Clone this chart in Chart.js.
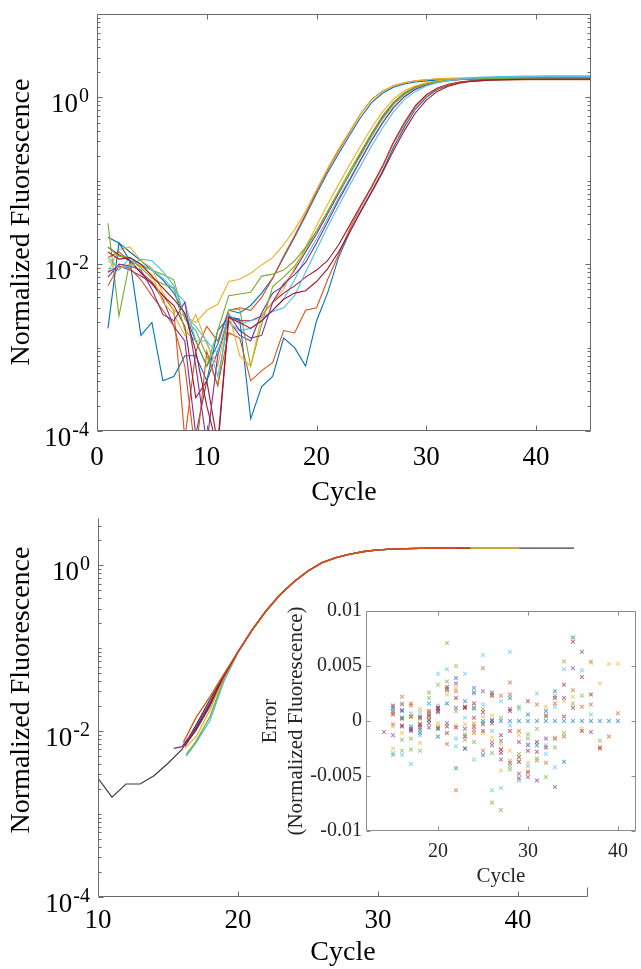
<!DOCTYPE html>
<html>
<head>
<meta charset="utf-8">
<title>Amplification curves</title>
<script src="https://cdn.jsdelivr.net/npm/chart.js"></script>
<style>
  body { margin: 0; background: #fff; }
  #wrap { position: relative; width: 641px; height: 969px; }
  canvas { position: absolute; left: 0; top: 0; }
</style>
</head>
<body>
<div id="wrap">
  <canvas id="topChart" width="641" height="969"></canvas>
  <canvas id="bottomChart" width="641" height="969"></canvas>
  <canvas id="insetChart" width="641" height="969"></canvas>
</div>
<script>
// ---- top panel: raw normalized fluorescence of 14 wells, cycles 1..45
const topCycles = [1,2,3,4,5,6,7,8,9,10,11,12,13,14,15,16,17,18,19,20,21,22,23,24,25,26,27,28,29,30,31,32,33,34,35,36,37,38,39,40,41,42,43,44,45];

const well01 = [0.021,0.018,0.014,0.011,0.0085,0.0065,0.0045,0.0025,0.0012,0.0006, 0.0011,0.0028,0.0026,0.0032,0.0045,0.0068,0.012,0.021,0.038,0.07, 0.125,0.21,0.35,0.57,0.86,1.12,1.32,1.45,1.53,1.58, 1.61,1.63,1.64,1.65,1.66,1.66,1.67,1.67,1.67,1.68, 1.68,1.68,1.68,1.69,1.69];
const well02 = [0.012,0.014,0.011,0.008,0.0062,0.0042,0.0028,0.00008,0.0009,0.0018, 0.0012,0.0028,0.003,0.0028,0.004,0.0068,0.0125,0.022,0.04,0.075, 0.135,0.23,0.38,0.63,0.94,1.19,1.38,1.5,1.58,1.63, 1.66,1.68,1.69,1.7,1.7,1.71,1.71,1.71,1.71,1.72, 1.72,1.72,1.72,1.72,1.72];
const well03 = [0.008,0.015,0.016,0.011,0.009,0.0045,0.0028,0.0024,0.002,0.0028, 0.0033,0.0062,0.0066,0.0078,0.0098,0.012,0.017,0.026,0.043,0.078, 0.14,0.24,0.39,0.63,0.93,1.18,1.38,1.5,1.58,1.63, 1.67,1.69,1.7,1.71,1.71,1.72,1.72,1.72,1.73,1.73, 1.73,1.73,1.73,1.73,1.73];
const well04 = [0.008,0.0095,0.0085,0.0072,0.006,0.0038,0.0018,0.0012,0.00009,0.0004, 0.0009,0.0021,0.0014,0.0012,0.0026,0.0045,0.0055,0.0085,0.014,0.023, 0.04,0.07,0.12,0.21,0.36,0.58,0.86,1.12,1.32,1.46, 1.55,1.61,1.65,1.67,1.68,1.69,1.7,1.7,1.7,1.71, 1.71,1.71,1.71,1.71,1.71];
const well05 = [0.031,0.0024,0.011,0.0095,0.0085,0.0075,0.0065,0.0022,0.0016,0.0008, 0.00035,0.0028,0.0029,0.0006,0.0019,0.0054,0.007,0.0095,0.015,0.025, 0.043,0.075,0.13,0.22,0.37,0.6,0.88,1.14,1.34,1.47, 1.56,1.62,1.65,1.67,1.68,1.69,1.7,1.7,1.71,1.71, 1.71,1.71,1.72,1.72,1.72];
const well06 = [0.009,0.0085,0.012,0.01,0.0085,0.0068,0.005,0.0035,0.0012,0.0012, 0.00045,0.002,0.0016,0.0017,0.0021,0.0028,0.0038,0.0065,0.012,0.02, 0.035,0.062,0.105,0.18,0.31,0.5,0.76,1.02,1.25,1.42, 1.54,1.62,1.68,1.72,1.75,1.77,1.78,1.79,1.8,1.8, 1.81,1.81,1.81,1.82,1.82];
const well07 = [0.016,0.013,0.011,0.0078,0.0058,0.0042,0.0032,0.0018,0.00025,0.0004, 0.00007,0.0024,0.0021,0.0021,0.0024,0.0035,0.0045,0.0055,0.007,0.0085, 0.011,0.017,0.029,0.05,0.085,0.15,0.29,0.5,0.8,1.08, 1.3,1.44,1.53,1.58,1.61,1.63,1.64,1.65,1.65,1.66, 1.66,1.66,1.66,1.66,1.66];
const well08 = [0.0017,0.018,0.011,0.0014,0.002,0.0004,0.00045,0.0008,0.0008,0.0004, 0.0016,0.0023,0.0022,0.00014,0.00034,0.00045,0.0013,0.001,0.0006,0.0021, 0.0045,0.012,0.024,0.043,0.074,0.13,0.25,0.44,0.72,1.0, 1.24,1.4,1.5,1.56,1.6,1.62,1.63,1.64,1.64,1.65, 1.65,1.65,1.65,1.65,1.65];
const well09 = [0.0055,0.0095,0.009,0.0065,0.0042,0.0028,0.0018,0.0006,0.00005,0.0009, 0.00035,0.0015,0.0013,0.0004,0.00053,0.00066,0.0016,0.0015,0.0028,0.003, 0.0065,0.013,0.026,0.048,0.082,0.145,0.28,0.48,0.77,1.05, 1.27,1.42,1.51,1.56,1.59,1.61,1.62,1.62,1.63,1.63, 1.63,1.63,1.63,1.63,1.63];
const well10 = [0.011,0.009,0.01,0.0095,0.0075,0.0035,0.0025,0.0014,0.0025,0.0011, 0.0006,0.0026,0.0008,0.0006,0.0024,0.0035,0.005,0.009,0.016,0.029, 0.052,0.09,0.155,0.26,0.43,0.67,0.95,1.2,1.38,1.5, 1.58,1.63,1.66,1.68,1.69,1.7,1.7,1.71,1.71,1.71, 1.72,1.72,1.72,1.72,1.72];
const well11 = [0.007,0.01,0.0095,0.0085,0.005,0.0025,0.0021,0.0035,0.0006,0.00007, 0.0008,0.0025,0.0016,0.0013,0.0014,0.0035,0.0058,0.0075,0.0105,0.018, 0.032,0.058,0.1,0.175,0.3,0.49,0.75,1.02,1.25,1.41, 1.52,1.59,1.63,1.66,1.68,1.69,1.7,1.7,1.7,1.71, 1.71,1.71,1.71,1.71,1.71];
const well12 = [0.016,0.0125,0.012,0.009,0.0068,0.0058,0.0052,0.0016,0.0012,0.0006, 0.0016,0.0042,0.0044,0.0046,0.0072,0.0076,0.0085,0.011,0.016,0.025, 0.042,0.072,0.12,0.2,0.34,0.55,0.82,1.08,1.3,1.44, 1.53,1.6,1.64,1.66,1.68,1.69,1.69,1.7,1.7,1.7, 1.71,1.71,1.71,1.71,1.71];
const well13 = [0.012,0.009,0.0095,0.0115,0.011,0.0082,0.0055,0.0024,0.0018,0.0012, 0.00085,0.0025,0.0019,0.0021,0.0023,0.0027,0.003,0.0042,0.008,0.015, 0.028,0.05,0.088,0.15,0.26,0.43,0.67,0.94,1.18,1.37, 1.5,1.59,1.65,1.69,1.72,1.74,1.75,1.76,1.77,1.77, 1.78,1.78,1.78,1.78,1.78];
const well14 = [0.014,0.0115,0.012,0.01,0.0072,0.0052,0.0038,0.0026,0.0009,0.0002, 0.00006,0.0023,0.002,0.0017,0.0021,0.0028,0.0038,0.0045,0.0048,0.0062, 0.0088,0.014,0.024,0.042,0.072,0.125,0.23,0.4,0.65,0.93, 1.18,1.36,1.48,1.55,1.59,1.62,1.63,1.64,1.65,1.65, 1.65,1.65,1.65,1.65,1.65];

// ---- bottom panel: one measured well (black) and its fitted curves
const dataCycles = [10,11,12,13,14,15,16,17,18,19,20,21,22,23,24,25,26,27,28,29,30,31,32,33,34,35,36,37,38,39,40,41,42,43,44];
const measured = [0.0027,0.0016,0.0023,0.0023,0.0029,0.0041,0.006,0.0118,0.024,0.047, 0.09,0.165,0.28,0.44,0.63,0.85,1.07,1.23,1.36,1.46, 1.53,1.56,1.58,1.59,1.6,1.6,1.6,1.6,1.6,1.6, 1.6,1.6,1.6,1.6,1.6];

// fits, in drawing order: purple, blue, light blue, green, yellow, dark red, orange
const fitStartX = [15.4, 16.2, 16.3, 16.3, 16.2, 16.2, 16.1];
const fitStartY = [0.0062, 0.0068, 0.005, 0.0052, 0.0062, 0.0066, 0.0073];
const fitEndX = [35, 36, 36, 37.5, 40.1, 36.6, 35.6];
const fitPurple = [0.0065,0.011,0.022,0.046,0.09,0.165,0.28,0.44,0.63,0.85,1.07,1.23,1.36,1.46,1.53,1.56,1.58,1.59,1.6,1.6];
const fitBlue = [0.0102,0.02,0.046,0.09,0.165,0.28,0.44,0.63,0.85,1.07,1.23,1.36,1.46,1.53,1.56,1.58,1.59,1.6,1.6,1.6];
const fitLightBlue = [0.0072,0.0134,0.04,0.088,0.165,0.28,0.44,0.63,0.85,1.07,1.23,1.36,1.46,1.53,1.56,1.58,1.59,1.6,1.6,1.6];
const fitGreen = [0.0075,0.015,0.043,0.089,0.165,0.28,0.44,0.63,0.85,1.07,1.23,1.36,1.46,1.53,1.56,1.58,1.59,1.6,1.6,1.6,1.6];
const fitYellow = [0.0085,0.018,0.045,0.09,0.165,0.28,0.44,0.63,0.85,1.07,1.23,1.36,1.46,1.53,1.56,1.58,1.59,1.6,1.6,1.6,1.6,1.6,1.6,1.6];
const fitDarkRed = [0.0105,0.021,0.046,0.09,0.165,0.28,0.44,0.63,0.85,1.07,1.23,1.36,1.46,1.53,1.56,1.58,1.59,1.6,1.6,1.6];
const fitOrange = [0.0145,0.026,0.049,0.091,0.166,0.28,0.44,0.63,0.85,1.07,1.23,1.36,1.46,1.53,1.56,1.58,1.59,1.6,1.6];

// ---- inset: fit residuals, each series starts at errFrom and steps one cycle
const errFrom = [15, 15, 15, 14, 15, 15, 15, 15, 15, 16, 15, 15, 15, 16];
const errBlue = [0.0012,0.0003,-0.0005,-0.0008,0.0001,-0.0007,0.0016,-0.0043,-0.0025,0.003,0,0,0,0,0,0,0,0,0,0,0,0,0,0,0,0];
const errOrange = [0.0008,0.0022,0.0016,-0.0003,0.0004,-0.0006,-0.0021,-0.0063,-0.0025,-0.0011,0.0048,0.0024,-0.0026,0.0035,-0.0037,-0.0047,0.0015,-0.0038,0.0016,-0.0014,0.0028,0.0013,0.0015,-0.0025,-0.0014,0.0007];
const errYellow = [-0.0005,0.0003,0.0004,-0.002,0.0008,-0.0002,0.0028,0.003,-0.0003,-0.0002,0.0004,-0.0015,-0.0045,-0.0027,-0.0013,-0.0038,-0.0036,0.0013,-0.0015,0.0018,0.0022,-0.0007,0.0053,0.0034,0.0052,0.0052];
const errPurple = [-0.001,-0.0013,0.001,-0.0008,-0.0004,0.0005,0.0009,-0.0002,0.0034,0.0013,-0.0005,0.0027,-0.0022,-0.0026,-0.0038,-0.0048,-0.0051,-0.0054,-0.0016,-0.006,0.0021,0.0048,0.0063,-0.001];
const errGreen = [-0.0031,-0.0027,-0.0016,-0.0027,0.0026,0.0033,0.0071,0.005,-0.0017,0.0011,-0.0002,-0.0074,-0.0081,-0.0044,-0.003,-0.0016,-0.0007,-0.0051,-0.0024,0.0054,0.0076,0.0023,0.0054,-0.0018];
const errLightBlue = [-0.0029,-0.0031,-0.0039,0.0008,0.0016,0.0043,0.0047,-0.0023,0.0043,-0.0035,0.006,-0.0063,-0.0061,0.0063,-0.0054,-0.0021,0.0025,-0.003,-0.0042,0.0047,0.0076,0.0046,0.0006];
const errDarkRed = [0.0006,-0.0004,0.0004,-0.0003,0.0009,0.0012,0.0031,-0.0006,0.0012,0.0003,0.0008,-0.0002,-0.0029,-0.0009,-0.0052,-0.0027,-0.0019,-0.0024,0.0021,0.0004,0.0072,0.004,0.0024,-0.0024];
const errOrange2 = [-0.0003,0.0015,0.0014,-0.0006,0.0001,0.0012,-0.0011,0.0027,0.0012,-0.0008,-0.0027,-0.0019,0.0023,0.0024,-0.0009,-0.0046];
const errLightBlue2 = [0.0011,0.0016,0.0007,-0.0013,0.0016,0.0014,-0.0011,-0.0016,0.0003,0.0025,0.0015,-0.0009,0.0018,-0.0004,0.0011,-0.0041,-0.0036,-0.0022,0.0013];
const errPurple2 = [-0.0005,-0.0009,0.0004,-0.0006,0.0008,0.0029,0.0012,-0.0007,0.0026,-0.0003,0.0001,-0.0035,0.0011,-0.0019,-0.0022];
const errYellow2 = [-0.0025,-0.0011,0.0004,0.0011,0.0005,-0.0005,0.0024,-0.0004,0.0013,-0.0003,-0.0011,0.0005,-0.0021,-0.0036];
const errGreen2 = [0.0009,-0.0017,-0.0026,0.0002,0.0021,-0.0007,0.0036,0.0009,-0.0012,-0.0019,0.0011,-0.0029,0.0003,-0.0041,0.0013,-0.0012,-0.0034,0.0004,0.0023,-0.0011,0.0016];
const errDarkRed2 = [0.0014,0.0002,-0.0007,0.0003,-0.0002,0.0011,-0.0005,0.0021,-0.0014,0.0016,-0.0009,0.0023,-0.0013,0.0009,-0.0033,0.0018,-0.0028,0.0005,-0.0016,0.0033,0.0012,-0.0009];
const errBlue2 = [0.0009,0.0004,-0.0011,0.0007,-0.0014,0.0028,0.0039,0.0018,0.0012,-0.0031,0.0026,-0.0018,0.0021,-0.0037,0.0006,-0.0022,0.0009,0.0027,-0.0037];

const logLabelExps = [-4, -2, 0];

// matlab default line colours
const C = { blue: '#0072BD', orange: '#D95319', yellow: '#EDB120', purple: '#7E2F8E',
            green: '#77AC30', lightblue: '#4DBEEE', darkred: '#A2142F' };
const SERIF = "'Liberation Serif', 'Times New Roman', serif";

function rgba(hex, a) {
  const n = parseInt(hex.slice(1), 16);
  return `rgba(${n >> 16},${(n >> 8) & 255},${n & 255},${a})`;
}

// minor/major positions for a log axis (1..9 x 10^n)
function logTicks(min, max) {
  const out = [];
  for (let e = Math.floor(Math.log10(min)); e <= Math.ceil(Math.log10(max)); e++) {
    for (let m = 1; m <= 9; m++) {
      const v = m * Math.pow(10, e);
      if (v >= min * 0.999 && v <= max * 1.001) out.push({ v, major: m === 1 && e % 2 === 0 });
    }
  }
  return out;
}

// draws matlab-like axes: frame, inward ticks, 10^n labels, rotated y title
const matlabAxes = {
  id: 'matlabAxes',
  beforeDraw(chart, args, o) {
    if (!o.fill) return;
    const a = chart.chartArea, ctx = chart.ctx;
    ctx.save();
    ctx.fillStyle = o.fill;
    ctx.fillRect(a.left, a.top, a.right - a.left, a.bottom - a.top);
    ctx.restore();
  },
  afterDraw(chart, args, o) {
    const { ctx, chartArea: a } = chart;
    const x = chart.scales.x, y = chart.scales.y;
    const L = Math.round(a.left) + 0.5, R = Math.round(a.right) - 0.5;
    const T = Math.round(a.top) + 0.5, B = Math.round(a.bottom) - 0.5;
    ctx.save();
    ctx.strokeStyle = o.color;
    ctx.lineWidth = 1;
    ctx.beginPath();
    if (o.box) {
      ctx.rect(L, T, R - L, B - T);
    } else {
      ctx.moveTo(L, T); ctx.lineTo(L, B); ctx.lineTo(R, B);
      ctx.moveTo(R, B); ctx.lineTo(R, B - 9);
    }
    // x ticks
    x.ticks.forEach(t => {
      const px = Math.round(x.getPixelForValue(t.value)) + 0.5;
      if (px - L < 2 || R - px < 2) return;
      ctx.moveTo(px, B); ctx.lineTo(px, B - o.tickLen);
      if (o.box) { ctx.moveTo(px, T); ctx.lineTo(px, T + o.tickLen); }
    });
    // y ticks
    const yt = o.log ? logTicks(y.min, y.max) : y.ticks.map(t => ({ v: t.value, major: true }));
    yt.forEach(t => {
      const py = Math.round(y.getPixelForValue(t.v)) + 0.5;
      const len = t.major ? o.tickLen : o.tickLen * 0.6;
      ctx.moveTo(L, py); ctx.lineTo(L + len, py);
      if (o.box) { ctx.moveTo(R, py); ctx.lineTo(R - len, py); }
    });
    ctx.stroke();

    if (o.log) {
      ctx.fillStyle = '#000';
      ctx.textAlign = 'right';
      ctx.textBaseline = 'alphabetic';
      logLabelExps.forEach(e => {
        const py = y.getPixelForValue(Math.pow(10, e));
        const txt = String(e);
        ctx.font = `20px ${SERIF}`;
        const ew = ctx.measureText(txt).width;
        const xr = a.left - 8;
        ctx.fillText(txt, xr, py + 5);
        ctx.font = `27px ${SERIF}`;
        ctx.fillText('10', xr - ew - 1, py + 15);
      });
    }
    if (o.yTitle) {
      ctx.translate(o.yTitle.x, o.yTitle.y);
      ctx.rotate(-Math.PI / 2);
      ctx.fillStyle = '#000';
      ctx.textAlign = 'center';
      ctx.textBaseline = 'middle';
      ctx.font = `28px ${SERIF}`;
      ctx.fillText(o.yTitle.text, 0, 0);
    }
    ctx.restore();
  }
};

const quiet = { legend: { display: false }, tooltip: { enabled: false } };
const noGrid = { display: false, drawTicks: false };

// ---------- top chart
const topWells = [well01, well02, well03, well04, well05, well06, well07, well08, well09, well10, well11, well12, well13, well14];
const wellColors = [C.blue, C.orange, C.yellow, C.purple, C.green, C.lightblue, C.darkred,
                    C.blue, C.orange, C.yellow, C.purple, C.green, C.lightblue, C.darkred];

new Chart(document.getElementById('topChart'), {
  type: 'line',
  data: {
    datasets: topWells.map((vals, i) => ({
      data: vals.map((v, j) => ({ x: topCycles[j], y: v })),
      borderColor: wellColors[i],
      borderWidth: 1.1,
      pointRadius: 0,
      tension: 0,
      order: topWells.length - i
    }))
  },
  options: {
    responsive: false, animation: false, events: [],
    layout: { padding: { left: 0, top: 14, right: 50, bottom: 458 } },
    plugins: Object.assign({}, quiet, {
      matlabAxes: { color: '#6a6a6a', box: true, log: true, tickLen: 5,
                    yTitle: { text: 'Normalized Fluorescence', x: 22, y: 222 } }
    }),
    scales: {
      x: {
        type: 'linear', min: 0, max: 45,
        afterBuildTicks: s => { s.ticks = [0, 10, 20, 30, 40].map(v => ({ value: v })); },
        afterFit: s => { s.height = 80; },
        grid: noGrid, border: { display: false },
        ticks: { font: { family: SERIF, size: 27 }, color: '#000', padding: 11, maxRotation: 0 },
        title: { display: true, text: 'Cycle', font: { family: SERIF, size: 28 }, color: '#000', padding: { top: 0, bottom: 2 } }
      },
      y: {
        type: 'logarithmic', min: 1e-4, max: 10,
        afterFit: s => { s.width = 97; },
        grid: noGrid, border: { display: false }, ticks: { display: false }
      }
    }
  },
  plugins: [matlabAxes]
});

// ---------- bottom chart
const fitVals = [fitPurple, fitBlue, fitLightBlue, fitGreen, fitYellow, fitDarkRed, fitOrange];
const fitColors = [C.purple, C.blue, C.lightblue, C.green, C.yellow, C.darkred, C.orange];

const bottomSets = [{
  data: measured.map((v, j) => ({ x: dataCycles[j], y: v })),
  borderColor: '#3c3c3c', borderWidth: 1.2, pointRadius: 0, tension: 0
}];
fitVals.forEach((vals, i) => {
  const first = Math.ceil(fitStartX[i]);
  const pts = [{ x: fitStartX[i], y: fitStartY[i] }];
  vals.forEach((v, j) => pts.push({ x: first + j, y: v }));
  if (fitEndX[i] > first + vals.length - 1) pts.push({ x: fitEndX[i], y: vals[vals.length - 1] });
  bottomSets.push({ data: pts, borderColor: fitColors[i], borderWidth: 1.3, pointRadius: 0, tension: 0 });
});
bottomSets.forEach((d, i) => { d.order = bottomSets.length - i; });

new Chart(document.getElementById('bottomChart'), {
  type: 'line',
  data: { datasets: bottomSets },
  options: {
    responsive: false, animation: false, events: [],
    layout: { padding: { left: 0, top: 518, right: 53, bottom: 0 } },
    plugins: Object.assign({}, quiet, {
      matlabAxes: { color: '#6a6a6a', box: false, log: true, tickLen: 5,
                    yTitle: { text: 'Normalized Fluorescence', x: 22, y: 690 } }
    }),
    scales: {
      x: {
        type: 'linear', min: 10, max: 45,
        afterBuildTicks: s => { s.ticks = [10, 20, 30, 40].map(v => ({ value: v })); },
        afterFit: s => { s.height = 72; },
        grid: noGrid, border: { display: false },
        ticks: { font: { family: SERIF, size: 27 }, color: '#000', padding: 8, maxRotation: 0 },
        title: { display: true, text: 'Cycle', font: { family: SERIF, size: 28 }, color: '#000', padding: { top: 0, bottom: 0 } }
      },
      y: {
        type: 'logarithmic', min: 1e-4, max: 3.7,
        afterFit: s => { s.width = 98; },
        grid: noGrid, border: { display: false }, ticks: { display: false }
      }
    }
  },
  plugins: [matlabAxes]
});

// ---------- inset chart
const errVals = [errBlue, errOrange, errYellow, errPurple, errGreen, errLightBlue, errDarkRed,
                 errOrange2, errLightBlue2, errPurple2, errYellow2, errGreen2, errDarkRed2, errBlue2];
const errColors = [C.blue, C.orange, C.yellow, C.purple, C.green, C.lightblue, C.darkred,
                   C.orange, C.lightblue, C.purple, C.yellow, C.green, C.darkred, C.blue];

new Chart(document.getElementById('insetChart'), {
  type: 'scatter',
  data: {
    datasets: errVals.map((vals, i) => ({
      data: vals.map((v, j) => ({ x: errFrom[i] + j, y: v })),
      pointStyle: 'crossRot',
      pointRadius: 2.6,
      pointBorderWidth: 1.1,
      borderColor: rgba(errColors[i], 0.6),
      backgroundColor: rgba(errColors[i], 0.6)
    }))
  },
  options: {
    responsive: false, animation: false, events: [],
    layout: { padding: { left: 250, top: 611, right: 0, bottom: 78 } },
    plugins: Object.assign({}, quiet, {
      matlabAxes: { color: '#8c8c8c', box: true, log: false, tickLen: 4, fill: '#fff' }
    }),
    scales: {
      x: {
        type: 'linear', min: 12, max: 42,
        afterBuildTicks: s => { s.ticks = [20, 30, 40].map(v => ({ value: v })); },
        afterFit: s => { s.height = 60; },
        grid: noGrid, border: { display: false },
        ticks: { font: { family: SERIF, size: 20 }, color: '#262626', padding: 9, maxRotation: 0 },
        title: { display: true, text: 'Cycle', font: { family: SERIF, size: 21, lineHeight: 1.25 }, color: '#262626', padding: { top: 0, bottom: 1 } }
      },
      y: {
        type: 'linear', min: -0.01, max: 0.01,
        afterBuildTicks: s => { s.ticks = [-0.01, -0.005, 0, 0.005, 0.01].map(v => ({ value: v })); },
        afterFit: s => { s.width = 116; },
        grid: noGrid, border: { display: false },
        ticks: { font: { family: SERIF, size: 20 }, color: '#262626', padding: 4,
                 callback: v => String(v) },
        title: { display: true, text: ['Error', '(Normalized Fluorescence)'],
                 font: { family: SERIF, size: 21, lineHeight: 1.25 }, color: '#262626', padding: { top: 7, bottom: 0 } }
      }
    }
  },
  plugins: [matlabAxes]
});
</script>
</body>
</html>
